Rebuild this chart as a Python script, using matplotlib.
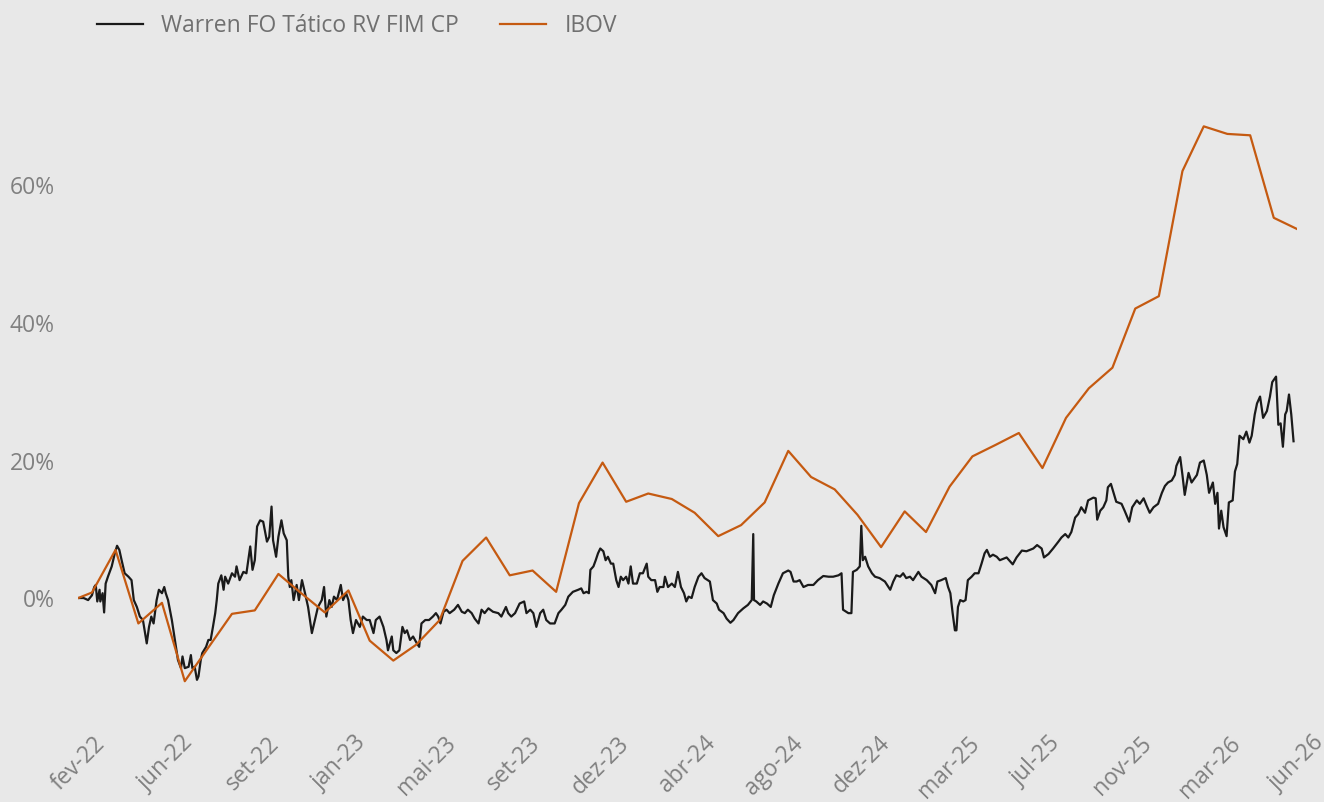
import numpy as np
import pandas as pd
import matplotlib
matplotlib.use('Agg')
import matplotlib.pyplot as plt
from matplotlib.ticker import FuncFormatter

plt.rcParams['font.family'] = ['Open Sans', 'DejaVu Sans']

start_date = '2022-02-10'
end_date = '2026-06-30'

tick_labels = ['fev-22', 'jun-22', 'set-22', 'jan-23', 'mai-23', 'set-23', 'dez-23',
               'abr-24', 'ago-24', 'dez-24', 'mar-25', 'jul-25', 'nov-25', 'mar-26', 'jun-26']
y_ticks = [0, 20, 40, 60]

# IBOV: first value at start date, then month ends (Feb-22 .. Jun-26), in %
ibov_values = [0.0,
               0.8, 7.0, -3.7, -0.7, -12.1, -7.2, -2.3, -1.8, 3.5, 0.7, -2.1,
               1.1, -6.2, -9.1, -6.8, -3.2, 5.4, 8.8, 3.3, 4.0, 0.9, 13.8, 19.7,
               14.0, 15.2, 14.4, 12.4, 9.0, 10.6, 13.9, 21.4, 17.6, 15.8, 12.1, 7.4,
               12.6, 9.6, 16.2, 20.6, 22.3, 24.0, 18.9, 26.2, 30.5, 33.5, 42.1, 43.9,
               62.1, 68.6, 67.5, 67.3, 55.3, 53.7]

# fund: days after start date and accumulated return in %
fund_days = [
    0, 7, 13, 18, 21, 23, 25, 28, 29, 32, 34, 36, 39, 44, 48, 51, 54, 57, 61, 66,
    70, 73, 77, 81, 85, 90, 93, 96, 99, 103, 106, 110, 113, 115, 118, 123, 127, 131, 135, 137,
    140, 145, 148, 150, 153, 156, 158, 161, 163, 168, 171, 174, 177, 180, 182, 184, 188, 191, 193, 197,
    202, 206, 208, 212, 217, 221, 226, 229, 232, 235, 239, 243, 248, 251, 254, 256, 260, 263, 267, 270,
    274, 276, 278, 280, 283, 287, 290, 294, 298, 302, 307, 311, 315, 320, 323, 326, 330, 333, 336, 340,
    345, 348, 352, 355, 358, 361, 365, 370, 374, 379, 383, 388, 391, 396,
    401, 405, 407, 412, 414, 418, 422, 426, 429, 432, 436, 440, 445, 448, 451, 456, 461, 466, 470, 473,
    476, 480, 484, 488, 494, 499, 504, 508, 512, 517, 521, 526, 530, 534, 539, 545, 552, 556, 562, 565,
    569, 574, 580, 586, 589, 594, 598, 602, 607, 611, 615, 620, 626, 631, 635, 640, 644, 650, 657, 661,
    664, 668, 671, 673, 677, 680, 683, 686, 690, 693, 696, 700, 703, 707, 710, 713, 716, 720, 723, 726,
    729, 734, 738, 742, 747, 749, 753, 758, 761, 764, 769, 771, 775, 780, 784, 788, 792, 796, 799, 802,
    806, 810, 815, 819, 823,
    830, 834, 839, 842, 848, 852, 857, 861, 867, 874, 880, 885, 887, 888, 891, 896, 900, 905, 910, 914,
    920, 926, 933, 936, 940, 944, 948, 953, 959, 966, 972, 979, 986, 992, 999, 1003, 1005, 1012, 1016, 1018,
    1023, 1027, 1029, 1031, 1034, 1038, 1043, 1047, 1053, 1060, 1067, 1071, 1075, 1080, 1084, 1088, 1093, 1097, 1104, 1108,
    1115, 1121, 1126, 1129, 1134, 1140, 1143, 1146, 1149, 1152, 1154, 1156, 1159, 1163, 1166, 1169, 1174, 1178, 1183, 1187,
    1191, 1194, 1198, 1202, 1207, 1211,
    1220, 1228, 1233, 1240, 1246, 1255, 1260, 1266, 1269, 1275, 1281, 1288, 1292, 1297, 1301, 1305, 1310, 1314, 1318, 1323,
    1327, 1334, 1337, 1339, 1343, 1347, 1351, 1353, 1357, 1360, 1364, 1371, 1375, 1381, 1385, 1391, 1395, 1400, 1404, 1408,
    1413, 1419, 1424, 1428, 1432, 1437, 1441, 1443, 1448, 1451, 1454, 1459, 1463, 1470, 1474, 1479, 1483, 1486, 1491, 1494,
    1497, 1499, 1502, 1505, 1509, 1512, 1517, 1520, 1523, 1526, 1531, 1535, 1539, 1542, 1546, 1549, 1553, 1557, 1562, 1566,
    1569, 1574, 1577, 1580, 1583, 1586, 1588, 1591, 1594, 1597]
fund_values = [
    0.0, 0.0, -0.3, 0.4, 1.6, 1.9, -0.5, 1.2, -0.5, 0.7, -2.1, 2.1, 3.1, 4.6, 6.5, 7.6, 7.0, 5.5, 3.6, 3.1,
    2.6, -0.3, -1.3, -2.7, -3.2, -6.6, -4.2, -2.7, -3.7, -0.3, 1.2, 0.7, 1.6, 0.7, -0.3, -3.2, -6.1, -9.0, -10.2, -8.5,
    -10.2, -10.0, -8.3, -10.2, -10.0, -11.9, -11.4, -9.0, -8.0, -7.1, -6.1, -6.1, -4.2, -2.2, -0.3, 2.1, 3.3, 1.2, 3.1, 2.1,
    3.6, 3.1, 4.6, 2.6, 3.8, 3.6, 7.5, 4.1, 5.5, 10.4, 11.3, 11.1, 8.2, 8.9, 13.3, 8.4, 6.0, 8.9, 11.3, 9.4,
    8.4, 3.1, 1.6, 2.6, -0.3, 1.9, -0.3, 2.6, 0.7, -1.3, -5.1, -3.2, -1.3, -0.3, 1.6, -2.7, -0.3, -1.3, 0.2, -0.3,
    1.9, -0.3, 0.7, -0.3, -3.2, -5.1, -3.2, -4.2, -2.7, -3.2, -3.2, -5.1, -3.2, -2.7,
    -4.2, -6.1, -7.6, -5.6, -7.6, -8.0, -7.6, -4.2, -5.1, -4.7, -6.1, -5.6, -6.6, -7.1, -3.7, -3.2, -3.2, -2.7, -2.2, -2.7,
    -3.7, -2.0, -1.7, -2.2, -1.7, -1.0, -2.0, -2.2, -1.7, -2.2, -3.0, -3.7, -1.7, -2.2, -1.5, -2.0, -2.2, -2.7, -1.3, -2.2,
    -2.7, -2.2, -0.8, -0.5, -2.2, -1.7, -2.2, -4.2, -2.2, -1.7, -3.2, -3.7, -3.7, -2.2, -1.7, -1.0, 0.2, 0.9, 1.2, 1.4,
    0.7, 0.9, 0.7, 4.1, 4.6, 5.5, 6.5, 7.2, 6.8, 5.5, 6.0, 5.0, 5.0, 2.6, 1.6, 3.1, 2.6, 3.1, 2.1, 4.6,
    2.1, 2.1, 3.6, 3.6, 5.0, 3.1, 2.6, 2.6, 0.9, 1.6, 1.6, 3.1, 1.6, 2.1, 1.6, 3.8, 1.6, 0.7, -0.5, 0.2,
    0.0, 1.6, 3.1, 3.6, 2.9,
    2.4, -0.3, -0.8, -1.7, -2.2, -3.0, -3.6, -3.2, -2.2, -1.5, -1.0, -0.3, 9.3, -0.3, -0.5, -1.0, -0.5, -0.8, -1.3, 0.4,
    2.1, 3.6, 4.0, 3.8, 2.4, 2.4, 2.6, 1.6, 1.9, 1.9, 2.6, 3.2, 3.1, 3.1, 3.3, 3.6, -1.7, -2.2, -2.2, 3.8,
    4.1, 4.6, 10.5, 5.5, 6.0, 4.6, 3.6, 3.1, 2.9, 2.4, 1.2, 2.4, 3.3, 3.1, 3.6, 2.9, 3.1, 2.6, 3.8, 3.1,
    2.6, 1.9, 0.7, 2.4, 2.6, 2.9, 1.6, 0.7, -2.2, -4.7, -4.7, -1.3, -0.3, -0.5, -0.3, 2.6, 3.1, 3.6, 3.6, 5.0,
    6.5, 7.0, 6.0, 6.3, 6.0, 5.5,
    5.9, 4.9, 5.9, 6.9, 6.8, 7.2, 7.7, 7.2, 5.9, 6.4, 7.2, 8.2, 8.8, 9.3, 8.8, 9.6, 11.7, 12.2, 13.2, 12.4,
    14.2, 14.6, 14.5, 11.4, 12.7, 13.2, 14.2, 16.1, 16.6, 15.5, 14.0, 13.7, 12.7, 11.1, 13.2, 14.2, 13.7, 14.5, 13.4, 12.4,
    13.2, 13.7, 15.3, 16.3, 16.8, 17.1, 17.9, 19.2, 20.5, 17.9, 15.0, 18.2, 16.8, 17.9, 19.7, 20.0, 17.9, 15.3, 16.8, 13.7,
    15.3, 10.1, 12.7, 10.3, 9.0, 13.9, 14.2, 18.4, 19.5, 23.6, 23.1, 24.2, 22.6, 23.6, 26.7, 28.3, 29.3, 26.2, 27.2, 29.3,
    31.4, 32.2, 25.2, 25.4, 22.0, 26.7, 27.2, 29.6, 26.7, 22.8]

start = pd.Timestamp(start_date)
end = pd.Timestamp(end_date)
ibov_dates = [start] + list(pd.date_range('2022-02-28', end_date, freq='ME'))
fund_dates = start + pd.to_timedelta(fund_days, unit='D')

bg = '#e8e8e8'
fig = plt.figure(figsize=(13.24, 8.02), dpi=100, facecolor=bg)
ax = fig.add_axes([0.0591, 0.1086, 0.9202, 0.763])
ax.set_facecolor(bg)

ax.plot(fund_dates, fund_values, color='#1a1a1a', lw=1.6, label='Warren FO Tático RV FIM CP')
ax.plot(ibov_dates, ibov_values, color='#c55a11', lw=1.6, label='IBOV')

ax.set_xlim(start, end)
ax.set_ylim(-17, 72)

tick_pos = pd.to_datetime(np.linspace(start.value, end.value, len(tick_labels)))
ax.set_xticks(tick_pos)
ax.set_xticklabels(tick_labels, rotation=45)
ax.set_yticks(y_ticks)
ax.yaxis.set_major_formatter(FuncFormatter(lambda v, p: f'{v:.0f}%'))

ax.tick_params(axis='both', length=0, labelsize=16.5, labelcolor='#808080')
ax.tick_params(axis='x', pad=12)
ax.tick_params(axis='y', pad=17)
for s in ax.spines.values():
    s.set_visible(False)

leg = ax.legend(loc='upper left', bbox_to_anchor=(0.0665, 0.994), bbox_transform=fig.transFigure,
                ncol=2, frameon=False, fontsize=16.5, borderaxespad=0, columnspacing=1.8)
for t in leg.get_texts():
    t.set_color('#707070')

fig.savefig('out.png', dpi=100, facecolor=bg)
